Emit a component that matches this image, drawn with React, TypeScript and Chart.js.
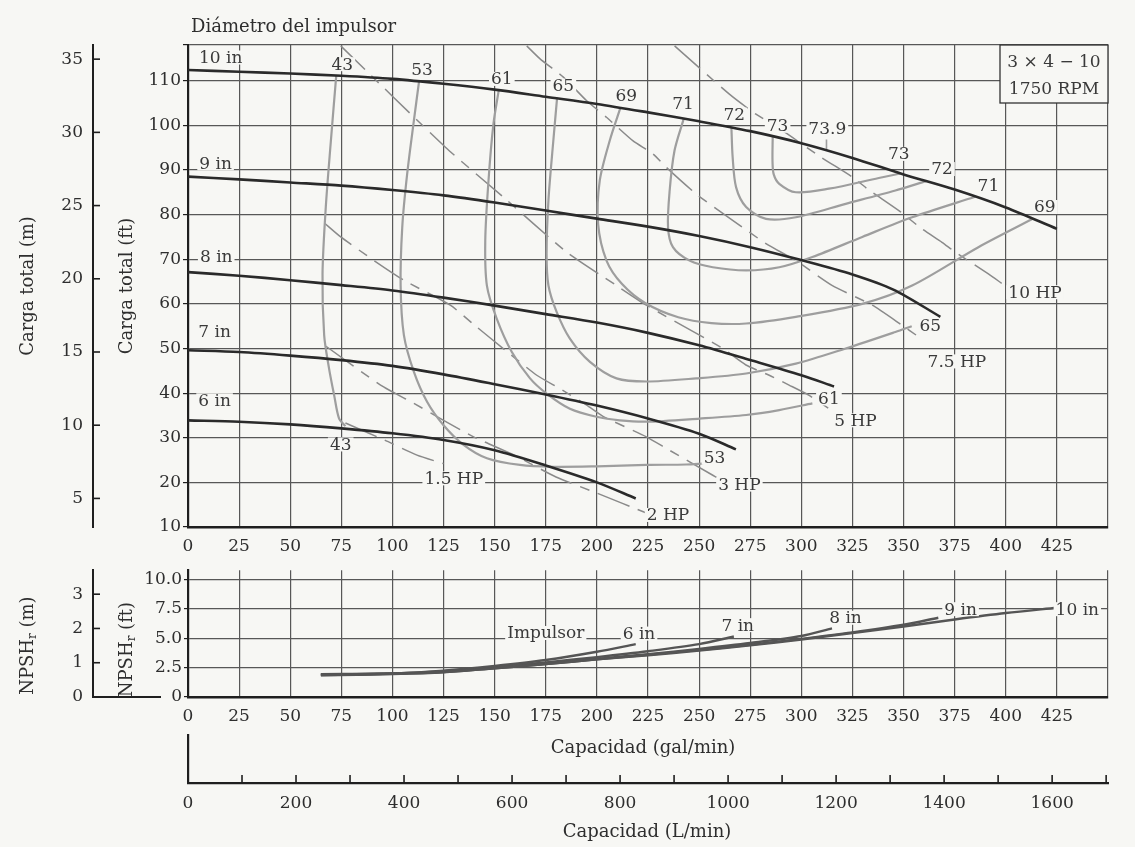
import React, { useEffect, useRef } from "react";
import { Chart, registerables } from "chart.js";

Chart.register(...registerables);

type Pt = [number, number];
type Lbl = [string, number, number];

const FONT = "'DejaVu Serif', 'Liberation Serif', serif";
const BG = "#f7f7f4";
const INK = "#2e2e2e";
const LABEL_INK = "#3a3a3a";
const GRID = "#575757";
const AXIS = "#1f1f1f";
const HEAD_COLOR = "#2a2a2a";
const EFF_COLOR = "#9e9e9e";
const HP_COLOR = "#8a8a8a";
const NPSH_COLOR = "#555555";

const FT_PER_M = 3.2808;
const L_PER_GAL = 3.78541;

const GPM_MAX = 450;
const HEAD_MIN = 10;
const HEAD_MAX = 118;
const NPSH_MAX = 10.8;
const NPSH_M_MAX = 3.7;

// tick values
const GPM_TICKS = [0, 25, 50, 75, 100, 125, 150, 175, 200, 225, 250, 275, 300, 325, 350, 375, 400, 425];
const FT_TICKS = [10, 20, 30, 40, 50, 60, 70, 80, 90, 100, 110];
const M_TICKS = [5, 10, 15, 20, 25, 30, 35];
const NPSH_FT_TICKS = [0, 2.5, 5, 7.5, 10];
const NPSH_M_TICKS = [0, 1, 2, 3];
const LPM_TICKS = [0, 100, 200, 300, 400, 500, 600, 700, 800, 900, 1000, 1100, 1200, 1300, 1400, 1500, 1600, 1700];
const LPM_LABELS = [0, 200, 400, 600, 800, 1000, 1200, 1400, 1600];

// head-capacity curves [gal/min, ft]
const HEAD_10IN: Pt[] = [[0, 112.4], [25, 112], [50, 111.6], [75, 111.1], [100, 110.4], [125, 109.3], [150, 108], [175, 106.4], [200, 104.8], [225, 102.9], [250, 100.9], [275, 98.7], [300, 96], [325, 92.7], [350, 89], [375, 85.6], [400, 81.6], [425, 76.8]];
const HEAD_9IN: Pt[] = [[0, 88.5], [25, 87.9], [50, 87.2], [75, 86.5], [100, 85.5], [125, 84.3], [150, 82.7], [175, 80.9], [200, 79.1], [225, 77.3], [250, 75.2], [275, 72.7], [300, 69.8], [325, 66.6], [345, 63.2], [368, 57.1]];
const HEAD_8IN: Pt[] = [[0, 67.1], [25, 66.3], [50, 65.3], [75, 64.2], [100, 63], [125, 61.4], [150, 59.6], [175, 57.7], [200, 55.8], [225, 53.5], [250, 50.7], [275, 47.4], [300, 44], [316, 41.5]];
const HEAD_7IN: Pt[] = [[0, 49.6], [25, 49.2], [50, 48.4], [75, 47.4], [100, 46.1], [125, 44.2], [150, 42], [175, 39.7], [200, 37.2], [225, 34.3], [250, 30.9], [268, 27.4]];
const HEAD_6IN: Pt[] = [[0, 33.9], [25, 33.6], [50, 33], [75, 32.1], [100, 31], [125, 29.5], [150, 27.2], [175, 23.8], [200, 20], [219, 16.4]];

// iso-efficiency contours (%)
const EFF_43: Pt[] = [[72.5, 111.1], [69.9, 96.6], [67.4, 81.7], [65.8, 66.7], [66.6, 53], [69, 45.5], [71.5, 39.5], [73.9, 34.3], [77, 32.6]];
const EFF_53: Pt[] = [[113, 109.8], [110.5, 101.1], [107.2, 89.1], [104.8, 77.2], [104, 64.1], [105.6, 53], [110.5, 44.75], [117, 38], [125, 32.8], [134.8, 28.4], [146.2, 25.4], [162.4, 23.9], [178.7, 23.5], [200, 23.6], [224.2, 23.9], [243.7, 24], [252, 24.2]];
const EFF_61: Pt[] = [[152, 107.9], [149.4, 100.3], [147, 87.7], [145.4, 74.2], [146.2, 64.1], [151, 56.7], [158.4, 49.2], [167.3, 43.3], [175.4, 39.9], [186.8, 36.5], [199.8, 34.7], [211.2, 33.9], [224.2, 33.6], [250.2, 34.3], [273, 35.1], [289.2, 36.2], [305.4, 37.7]];
const EFF_65: Pt[] = [[180.5, 106], [178.7, 96.6], [176.3, 83.2], [175.4, 71.2], [176.3, 64.1], [180.3, 58.2], [186.8, 52.2], [196.6, 47], [209.6, 43.3], [224.2, 42.6], [248.6, 43.3], [273, 44.4], [297.3, 46.6], [321.7, 50], [346, 53.7], [354, 55]];
const EFF_69: Pt[] = [[211.5, 103.9], [206.3, 96.6], [201.4, 87.6], [200.6, 77.9], [204.7, 69.7], [212.2, 64.5], [223.6, 60.2], [239.8, 57], [256, 55.7], [273, 55.6], [297.3, 57.1], [329.8, 60], [354.2, 64.1], [386.6, 72.7], [413, 79]];
const EFF_71: Pt[] = [[242.5, 101.5], [238, 94.4], [235.6, 85.4], [234.8, 77.2], [237.2, 72.7], [245.3, 69.7], [256.7, 68.2], [273, 67.5], [289.2, 68.2], [305.4, 70.5], [329.8, 75], [354.2, 79.4], [385, 84]];
const EFF_72: Pt[] = [[265.8, 99.5], [266.4, 92.9], [268.1, 86.1], [273, 81.7], [282.7, 79.05], [297.3, 79.4], [321.7, 82.4], [346, 85.4], [361, 87.5]];
const EFF_73: Pt[] = [[286, 97.5], [285.9, 92], [286.5, 89], [289.2, 86.9], [297.3, 85], [313.5, 85.8], [337.9, 88.2], [348.5, 89.2]];
const EFF_739_TICK: Pt[] = [[312.3, 96.8], [312.3, 94.4]];

// power lines (HP)
const HP_1_5: Pt[] = [[77, 33.3], [96, 29.5], [112, 26.1], [125, 24.2]];
const HP_2: Pt[] = [[67.5, 50.5], [94.2, 41.8], [110.5, 37.7], [123.5, 34.3], [139.7, 30.2], [160, 26], [180, 21.2], [200, 17.6], [225, 13], [230, 12.3]];
const HP_3: Pt[] = [[67, 78], [74.7, 75], [91, 69.7], [105.6, 65.3], [128.3, 59.7], [139.7, 55.4], [156, 49.3], [170.6, 44], [181.9, 41], [195, 37.3], [203, 34.8], [224.2, 30.2], [234, 27.6], [256.7, 21.6], [259, 21]];
const HP_5: Pt[] = [[74.7, 117.8], [125.9, 95.1], [154.3, 83.9], [185.2, 71.6], [209.6, 64.1], [224.2, 59.7], [250.2, 53], [261.6, 50], [272.9, 46.3], [284.3, 44], [294, 41.8], [303.8, 39.5], [313.5, 36.5]];
const HP_7_5: Pt[] = [[165.7, 117.8], [172.2, 114.9], [183.6, 110.8], [195, 105.5], [204.7, 101.8], [217.7, 96.5], [227.4, 93.6], [233.9, 90.6], [248.6, 84.6], [266.4, 78.7], [282.7, 73.5], [297.3, 69.7], [315.2, 64.1], [334.7, 59.7], [349.3, 55.2], [357.4, 52.6]];
const HP_10: Pt[] = [[238, 117.8], [264.8, 107], [277.8, 102.5], [289.2, 99.3], [309.5, 92.9], [325, 88.4], [332.2, 85.8], [347.7, 80.9], [359, 76.8], [368.8, 73.8], [375.3, 71.6], [391.5, 66.7], [398, 64.6]];

// NPSHr curves [gal/min, ft]
const NPSH_10IN: Pt[] = [[65, 1.85], [100, 1.95], [125, 2.1], [150, 2.45], [175, 2.8], [200, 3.2], [225, 3.55], [250, 3.95], [275, 4.4], [300, 4.9], [325, 5.45], [350, 6.0], [375, 6.6], [400, 7.15], [425, 7.6]];
const NPSH_9IN: Pt[] = [[65, 1.88], [100, 1.97], [125, 2.12], [150, 2.45], [175, 2.8], [200, 3.2], [225, 3.6], [250, 4.0], [275, 4.45], [300, 4.95], [325, 5.5], [350, 6.15], [367, 6.75]];
const NPSH_8IN: Pt[] = [[65, 1.9], [100, 2.0], [125, 2.15], [150, 2.5], [175, 2.85], [200, 3.25], [225, 3.65], [250, 4.1], [275, 4.6], [300, 5.2], [315, 5.85]];
const NPSH_7IN: Pt[] = [[65, 1.92], [100, 2.0], [125, 2.2], [150, 2.55], [175, 2.95], [200, 3.4], [225, 3.9], [250, 4.5], [267, 5.15]];
const NPSH_6IN: Pt[] = [[65, 1.95], [100, 2.0], [125, 2.25], [150, 2.65], [175, 3.15], [200, 3.85], [219, 4.5]];

// annotation labels [text, gal/min, ft]
const IMPELLER_LABELS: Lbl[] = [["10 in", 16, 115.2], ["9 in", 13.5, 91.5], ["8 in", 13.8, 70.5], ["7 in", 13, 53.7], ["6 in", 13, 38.4]];
const EFF_LABELS: Lbl[] = [
  ["43", 75.5, 113.7], ["53", 114.5, 112.6], ["61", 153.5, 110.4], ["65", 183.6, 108.9], ["69", 214.4, 106.6],
  ["71", 242.1, 104.8], ["72", 267.2, 102.4], ["73", 288.4, 99.9], ["73.9", 312.7, 99.2],
  ["73", 347.7, 93.6], ["72", 368.8, 90.2], ["71", 391.5, 86.5], ["69", 419.1, 81.7],
  ["65", 363.1, 55.2], ["61", 313.5, 38.8], ["53", 257.5, 25.5], ["43", 74.7, 28.5],
];
const HP_LABELS: Lbl[] = [["10 HP", 414.3, 62.6], ["7.5 HP", 376.1, 47.1], ["5 HP", 326.5, 33.9], ["3 HP", 269.7, 19.5], ["2 HP", 234.8, 12.7], ["1.5 HP", 130, 20.9]];
const NPSH_LABELS: Lbl[] = [["Impulsor", 175, 5.45], ["6 in", 220.6, 5.4], ["7 in", 268.9, 6.12], ["8 in", 321.6, 6.75], ["9 in", 377.9, 7.48], ["10 in", 435, 7.48]];

const tickFont = { family: FONT, size: 17 };

const ds = (pts: Pt[], color: string, width: number, dash: number[] = [], tension = 0.3) => ({
  data: pts.map(([x, y]) => ({ x, y })),
  showLine: true,
  borderColor: color,
  backgroundColor: color,
  borderWidth: width,
  borderDash: dash,
  pointRadius: 0,
  pointHoverRadius: 0,
  tension,
  fill: false,
});

const setTicks = (vals: number[]) => (s: any) => {
  s.ticks = vals.map((v) => ({ value: v }));
};

function drawLabels(chart: any, labels: Lbl[], size = 17) {
  const { ctx } = chart;
  const xs = chart.scales.x;
  const ys = chart.scales.y;
  ctx.save();
  ctx.font = `${size}px ${FONT}`;
  ctx.textAlign = "center";
  ctx.textBaseline = "middle";
  for (const [t, gx, gy] of labels) {
    const px = xs.getPixelForValue(gx);
    const py = ys.getPixelForValue(gy);
    const w = ctx.measureText(t).width;
    ctx.fillStyle = BG;
    ctx.fillRect(px - w / 2 - 2, py - 7, w + 4, 14);
    ctx.fillStyle = LABEL_INK;
    ctx.fillText(t, px, py + 1);
  }
  ctx.restore();
}

function rotatedText(ctx: any, parts: { t: string; size: number; dy: number }[], cx: number, cy: number) {
  ctx.save();
  ctx.translate(cx, cy);
  ctx.rotate(-Math.PI / 2);
  ctx.textBaseline = "middle";
  ctx.textAlign = "left";
  ctx.fillStyle = INK;
  let total = 0;
  const ws = parts.map((p) => {
    ctx.font = `${p.size}px ${FONT}`;
    const w = ctx.measureText(p.t).width;
    total += w;
    return w;
  });
  let x = -total / 2;
  parts.forEach((p, i) => {
    ctx.font = `${p.size}px ${FONT}`;
    ctx.fillText(p.t, x, p.dy);
    x += ws[i];
  });
  ctx.restore();
}

function inwardTicks(chart: any, id: string, vals: number[]) {
  const { ctx } = chart;
  const s = chart.scales[id];
  ctx.save();
  ctx.strokeStyle = AXIS;
  ctx.lineWidth = 1.6;
  for (const v of vals) {
    const py = s.getPixelForValue(v);
    ctx.beginPath();
    ctx.moveTo(s.right, py);
    ctx.lineTo(s.right + 7, py);
    ctx.stroke();
  }
  ctx.restore();
}

const mainDecor = {
  id: "mainDecor",
  afterDraw(chart: any) {
    const { ctx, chartArea: ca } = chart;
    inwardTicks(chart, "ym", M_TICKS);
    ctx.save();
    ctx.font = `18px ${FONT}`;
    ctx.fillStyle = INK;
    ctx.textAlign = "left";
    ctx.textBaseline = "middle";
    ctx.fillText("Diámetro del impulsor", ca.left + 3, ca.top - 18);
    ctx.restore();
    const cy = (ca.top + ca.bottom) / 2;
    rotatedText(ctx, [{ t: "Carga total (m)", size: 18, dy: 0 }], 28, cy);
    rotatedText(ctx, [{ t: "Carga total (ft)", size: 18, dy: 0 }], 127, cy);
    // model box
    const bw = 108, bh = 58;
    const bx = ca.right - bw, by = ca.top;
    ctx.save();
    ctx.fillStyle = BG;
    ctx.fillRect(bx, by, bw, bh);
    ctx.strokeStyle = "#333";
    ctx.lineWidth = 1.3;
    ctx.strokeRect(bx, by, bw, bh);
    ctx.fillStyle = LABEL_INK;
    ctx.font = `17px ${FONT}`;
    ctx.textAlign = "center";
    ctx.textBaseline = "middle";
    ctx.fillText("3 × 4 − 10", bx + bw / 2, by + 18);
    ctx.fillText("1750 RPM", bx + bw / 2, by + 45);
    ctx.restore();
    drawLabels(chart, IMPELLER_LABELS);
    drawLabels(chart, EFF_LABELS);
    drawLabels(chart, HP_LABELS);
  },
};

const npshDecor = {
  id: "npshDecor",
  afterDraw(chart: any) {
    const { ctx, chartArea: ca } = chart;
    inwardTicks(chart, "ym", NPSH_M_TICKS);
    const ym = chart.scales.ym;
    const y0 = chart.scales.y.getPixelForValue(0);
    ctx.save();
    ctx.strokeStyle = AXIS;
    ctx.lineWidth = 2;
    ctx.beginPath();
    ctx.moveTo(ym.right, y0);
    ctx.lineTo(ym.right + 68, y0);
    ctx.stroke();
    ctx.restore();
    const cy = (ca.top + ca.bottom) / 2;
    rotatedText(ctx, [{ t: "NPSH", size: 18, dy: 0 }, { t: "r", size: 12, dy: 5 }, { t: " (m)", size: 18, dy: 0 }], 28, cy + 12);
    rotatedText(ctx, [{ t: "NPSH", size: 18, dy: 0 }, { t: "r", size: 12, dy: 5 }, { t: " (ft)", size: 18, dy: 0 }], 127, cy + 16);
    drawLabels(chart, NPSH_LABELS);
  },
};

const lpmDecor = {
  id: "lpmDecor",
  afterDraw(chart: any) {
    const { ctx, chartArea: ca } = chart;
    const xs = chart.scales.x;
    ctx.save();
    ctx.strokeStyle = AXIS;
    ctx.lineWidth = 1.6;
    for (const v of LPM_TICKS) {
      const px = xs.getPixelForValue(v);
      ctx.beginPath();
      ctx.moveTo(px, ca.bottom);
      ctx.lineTo(px, ca.bottom - 8);
      ctx.stroke();
    }
    const cx = (ca.left + ca.right) / 2;
    ctx.fillStyle = INK;
    ctx.font = `18px ${FONT}`;
    ctx.textAlign = "center";
    ctx.textBaseline = "middle";
    ctx.fillText("Capacidad (gal/min)", cx - 5, ca.top + 13);
    ctx.fillText("Capacidad (L/min)", cx - 1, ca.bottom + 49);
    ctx.restore();
  },
};

const xGpmScale = (height: number) => ({
  type: "linear",
  min: 0,
  max: GPM_MAX,
  afterBuildTicks: setTicks([...GPM_TICKS, GPM_MAX]),
  afterFit: (s: any) => {
    s.height = height;
  },
  grid: { color: GRID, lineWidth: 1.2, drawTicks: false },
  border: { color: AXIS, width: 2.5 },
  ticks: {
    padding: 9,
    color: INK,
    font: tickFont,
    autoSkip: false,
    maxRotation: 0,
    callback: (v: any) => (v === GPM_MAX ? "" : String(v)),
  },
});

function useChart(build: (c: HTMLCanvasElement) => Chart) {
  const ref = useRef<HTMLCanvasElement>(null);
  useEffect(() => {
    if (!ref.current) return;
    const chart = build(ref.current);
    return () => chart.destroy();
  }, []);
  return ref;
}

function MainChart() {
  const ref = useChart(
    (c) =>
      new Chart(c, {
        type: "scatter",
        data: {
          datasets: [
            ds(HEAD_10IN, HEAD_COLOR, 2.6),
            ds(HEAD_9IN, HEAD_COLOR, 2.6),
            ds(HEAD_8IN, HEAD_COLOR, 2.6),
            ds(HEAD_7IN, HEAD_COLOR, 2.6),
            ds(HEAD_6IN, HEAD_COLOR, 2.6),
            ds(EFF_43, EFF_COLOR, 2.2),
            ds(EFF_53, EFF_COLOR, 2.2),
            ds(EFF_61, EFF_COLOR, 2.2),
            ds(EFF_65, EFF_COLOR, 2.2),
            ds(EFF_69, EFF_COLOR, 2.2),
            ds(EFF_71, EFF_COLOR, 2.2),
            ds(EFF_72, EFF_COLOR, 2.2),
            ds(EFF_73, EFF_COLOR, 2.2),
            ds(EFF_739_TICK, EFF_COLOR, 1.6, [], 0),
            ds(HP_1_5, HP_COLOR, 1.5, [34, 9, 10, 9], 0.2),
            ds(HP_2, HP_COLOR, 1.5, [34, 9, 10, 9], 0.2),
            ds(HP_3, HP_COLOR, 1.5, [34, 9, 10, 9], 0.2),
            ds(HP_5, HP_COLOR, 1.5, [34, 9, 10, 9], 0.2),
            ds(HP_7_5, HP_COLOR, 1.5, [34, 9, 10, 9], 0.2),
            ds(HP_10, HP_COLOR, 1.5, [34, 9, 10, 9], 0.2),
          ] as any,
        },
        options: {
          animation: false,
          responsive: false,
          events: [],
          layout: { padding: { left: 0, right: 27, top: 45, bottom: 0 } },
          plugins: { legend: { display: false }, tooltip: { enabled: false } },
          scales: {
            x: xGpmScale(33) as any,
            y: {
              type: "linear",
              position: "left",
              weight: 0,
              min: HEAD_MIN,
              max: HEAD_MAX,
              afterBuildTicks: setTicks([...FT_TICKS, HEAD_MAX]),
              afterFit: (s: any) => {
                s.width = 95;
              },
              grid: { color: GRID, lineWidth: 1.2, tickLength: 5, tickColor: AXIS },
              border: { color: AXIS, width: 2.2 },
              ticks: { padding: 2, color: INK, font: tickFont, callback: (v: any) => (v === HEAD_MAX ? "" : String(v)) },
            },
            ym: {
              type: "linear",
              axis: "y",
              position: "left",
              weight: 1,
              min: HEAD_MIN / FT_PER_M,
              max: HEAD_MAX / FT_PER_M,
              afterBuildTicks: setTicks(M_TICKS),
              afterFit: (s: any) => {
                s.width = 93;
              },
              grid: { drawOnChartArea: false, drawTicks: false },
              border: { color: AXIS, width: 2 },
              ticks: { padding: 10, color: INK, font: tickFont, callback: (v: any) => String(v) },
            },
          } as any,
        },
        plugins: [mainDecor],
      })
  );
  return <canvas ref={ref} width={1135} height={560} style={{ position: "absolute", left: 0, top: 0, display: "block" }} />;
}

function NpshChart() {
  const ref = useChart(
    (c) =>
      new Chart(c, {
        type: "scatter",
        data: {
          datasets: [
            ds(NPSH_10IN, NPSH_COLOR, 2.4),
            ds(NPSH_9IN, NPSH_COLOR, 2.4),
            ds(NPSH_8IN, NPSH_COLOR, 2.4),
            ds(NPSH_7IN, NPSH_COLOR, 2.4),
            ds(NPSH_6IN, NPSH_COLOR, 2.4),
          ] as any,
        },
        options: {
          animation: false,
          responsive: false,
          events: [],
          layout: { padding: { left: 0, right: 27, top: 15, bottom: 0 } },
          plugins: { legend: { display: false }, tooltip: { enabled: false } },
          scales: {
            x: xGpmScale(33) as any,
            y: {
              type: "linear",
              position: "left",
              weight: 0,
              min: 0,
              max: NPSH_MAX,
              afterBuildTicks: setTicks(NPSH_FT_TICKS),
              afterFit: (s: any) => {
                s.width = 95;
              },
              grid: { color: GRID, lineWidth: 1.2, tickLength: 4, tickColor: AXIS },
              border: { color: AXIS, width: 2.2 },
              ticks: { padding: 2, color: INK, font: tickFont, callback: (v: any) => (v === 0 ? "0" : Number(v).toFixed(1)) },
            },
            ym: {
              type: "linear",
              axis: "y",
              position: "left",
              weight: 1,
              min: 0,
              max: NPSH_M_MAX,
              afterBuildTicks: setTicks(NPSH_M_TICKS),
              afterFit: (s: any) => {
                s.width = 93;
              },
              grid: { drawOnChartArea: false, drawTicks: false },
              border: { color: AXIS, width: 2 },
              ticks: { padding: 10, color: INK, font: tickFont, callback: (v: any) => String(v) },
            },
          } as any,
        },
        plugins: [npshDecor],
      })
  );
  return <canvas ref={ref} width={1135} height={180} style={{ position: "absolute", left: 0, top: 550, display: "block" }} />;
}

function LpmAxis() {
  const ref = useChart(
    (c) =>
      new Chart(c, {
        type: "scatter",
        data: { datasets: [] },
        options: {
          animation: false,
          responsive: false,
          events: [],
          layout: { padding: { left: 188, right: 27, top: 5, bottom: 24 } },
          plugins: { legend: { display: false }, tooltip: { enabled: false } },
          scales: {
            x: {
              type: "linear",
              min: 0,
              max: GPM_MAX * L_PER_GAL,
              afterBuildTicks: setTicks(LPM_TICKS),
              afterFit: (s: any) => {
                s.height = 40;
              },
              grid: { drawOnChartArea: false, drawTicks: false },
              border: { color: AXIS, width: 2.2 },
              ticks: {
                padding: 10,
                color: INK,
                font: tickFont,
                autoSkip: false,
                maxRotation: 0,
                callback: (v: any) => (LPM_LABELS.includes(v) ? String(v) : ""),
              },
            },
            y: {
              type: "linear",
              min: 0,
              max: 1,
              afterFit: (s: any) => {
                s.width = 0;
              },
              ticks: { display: false },
              grid: { drawOnChartArea: false, drawTicks: false },
              border: { color: AXIS, width: 2.2 },
            },
          } as any,
        },
        plugins: [lpmDecor],
      })
  );
  return <canvas ref={ref} width={1135} height={117} style={{ position: "absolute", left: 0, top: 730, display: "block" }} />;
}

export default function App() {
  return (
    <div style={{ position: "absolute", left: 0, top: 0, width: 1135, height: 847, background: BG, overflow: "hidden" }}>
      <MainChart />
      <NpshChart />
      <LpmAxis />
    </div>
  );
}
